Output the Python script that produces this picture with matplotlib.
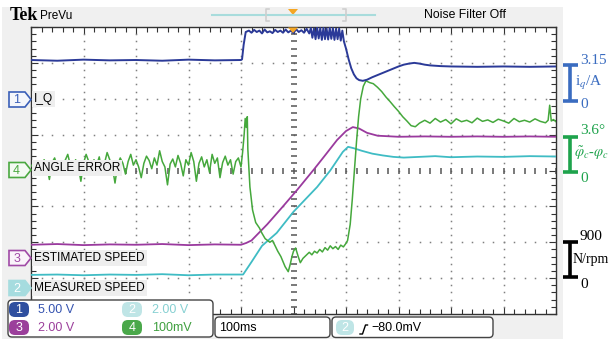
import numpy as np
import matplotlib.pyplot as plt
from matplotlib import font_manager
from matplotlib.patches import Polygon, Rectangle, FancyBboxPatch

plt.rcParams['mathtext.fontset'] = 'stix'

# time in ms (100 ms/div), trace values in screen divisions (0 = centre line)
iq_t = [0, 50, 100, 150, 200, 250, 300, 350, 400, 402, 405, 409, 415,
        420, 425, 430, 435, 440, 445, 450, 455, 460, 465, 470, 475, 480, 485, 490, 495,
        500, 505, 510, 515, 520, 525, 530,
        533, 536, 539, 542, 545, 548, 551, 554, 557, 560, 563, 566, 569, 572, 575, 578,
        581, 584, 587, 590, 593, 596,
        600, 605, 610, 615, 620, 625, 632, 640, 650, 660, 670, 680, 690, 700, 710, 720,
        730, 740, 750, 760, 780, 800, 850, 900, 950, 1000]
iq_v = [3.08, 3.06, 3.09, 3.07, 3.08, 3.06, 3.09, 3.07, 3.08, 3.1, 3.5, 3.86, 3.9,
        3.84, 3.92, 3.86, 3.9, 3.82, 3.93, 3.85, 3.88, 3.83, 3.92, 3.86, 3.9, 3.84, 3.93, 3.85, 3.9,
        3.83, 3.94, 3.86, 3.91, 3.84, 3.95, 3.82,
        3.97, 3.7, 3.96, 3.66, 3.98, 3.68, 3.97, 3.64, 3.98, 3.66, 3.96, 3.65, 3.98, 3.67, 3.97, 3.64,
        3.95, 3.66, 3.96, 3.62, 3.9, 3.6,
        3.4, 3.1, 2.85, 2.68, 2.57, 2.52, 2.5, 2.53, 2.6, 2.66, 2.72, 2.78, 2.84, 2.9, 2.95, 2.98,
        3.0, 2.98, 2.95, 2.93, 2.91, 2.9, 2.89, 2.9, 2.89, 2.9]

ang_pre_t = np.arange(0, 400, 5)
ang_pre_v = [0.12, 0.2, 0.05, 0.25, 0.1, 0.3, 0.15, -0.25, 0.22, 0.35, 0.1, 0.18, -0.1, 0.28, 0.45, 0.15,
             0.05, 0.3, 0.12, -0.3, 0.2, 0.45, 0.25, 0.1, 0.3, 0.15, 0.38, -0.05, 0.2, 0.5, 0.3, 0.1,
             -0.35, 0.15, 0.35, 0.2, -0.1, 0.25, 0.45, 0.15, 0.3, 0.1, -0.2, 0.2, 0.4, 0.28, 0.05, 0.35,
             0.15, 0.55, 0.25, 0.1, -0.4, 0.18, 0.32, 0.1, 0.42, 0.2, -0.15, 0.3, 0.15, 0.5, 0.25, -0.3,
             0.2, 0.38, 0.1, 0.3, -0.05, 0.45, 0.2, 0.35, -0.2, 0.22, 0.4, 0.15, 0.3, -0.1, 0.25, 0.35]
ang_post_t = [400, 403, 406, 408, 410, 412, 413, 417, 422, 428, 435, 440, 446, 455, 460, 465,
              470, 476, 484, 490, 494, 497, 500, 504, 509, 513, 518, 525, 530, 535, 540, 545,
              550, 555, 560, 565, 570, 575, 580, 585, 590, 595, 600, 603, 608, 612, 616, 620,
              624, 628, 633, 638, 645, 652, 660, 668, 676, 684, 692, 700, 708, 716, 724, 732,
              740, 750, 760, 770, 780, 790, 800, 810, 820, 830, 840, 850, 860, 870, 880, 890,
              900, 910, 920, 930, 940, 950, 960, 970, 980, 985, 988, 991, 995, 1000]
ang_post_v = [0.1, 0.5, 1.0, 1.45, 1.2, 1.5, 0.6, -0.46, -1.1, -1.45, -1.6, -1.75, -1.9, -2.0, -1.95, -2.1,
              -2.25, -2.4, -2.68, -2.82, -2.6, -2.4, -2.25, -2.16, -2.4, -2.57, -2.45, -2.35, -2.28, -2.35, -2.25, -2.3,
              -2.2, -2.27, -2.15, -2.22, -2.1, -2.18, -2.12, -2.2, -2.08, -2.13, -2.03, -1.95, -1.5, -0.8, 0.0, 0.8,
              1.5, 2.0, 2.35, 2.5, 2.45, 2.42, 2.32, 2.2, 2.05, 1.92, 1.78, 1.65, 1.5, 1.38, 1.25, 1.22,
              1.32, 1.4, 1.32, 1.45, 1.35, 1.42, 1.3, 1.44, 1.36, 1.4, 1.33, 1.46, 1.37, 1.41, 1.34, 1.43,
              1.38, 1.32, 1.45, 1.36, 1.4, 1.35, 1.44, 1.37, 1.33, 1.4, 1.82, 1.38, 1.42, 1.36]

est_t = [0, 50, 100, 150, 200, 250, 300, 350, 400, 410, 420, 450, 480, 507, 540, 560, 583, 600,
         613, 625, 640, 660, 700, 750, 800, 850, 900, 950, 1000]
est_v = [-2.07, -2.05, -2.08, -2.06, -2.07, -2.05, -2.08, -2.06, -2.07, -2.02, -1.95, -1.5, -1.0, -0.54,
         0.05, 0.42, 0.85, 1.1, 1.21, 1.17, 1.05, 0.97, 0.94, 0.95, 0.94, 0.95, 0.94, 0.95, 0.94]

meas_t = [0, 50, 100, 150, 200, 250, 300, 350, 404, 420, 440, 468, 500, 545, 570, 594, 604,
          615, 630, 650, 670, 690, 710, 740, 770, 800, 850, 900, 950, 1000]
meas_v = [-2.91, -2.9, -2.92, -2.9, -2.91, -2.89, -2.92, -2.9, -2.9, -2.55, -2.1, -1.74, -1.15, -0.46,
          0.0, 0.52, 0.66, 0.62, 0.55, 0.47, 0.42, 0.38, 0.36, 0.38, 0.4, 0.37, 0.39, 0.38, 0.4, 0.39]

names = {f.name for f in font_manager.fontManager.ttflist}
narrow = 'Liberation Sans Narrow' if 'Liberation Sans Narrow' in names else 'Liberation Sans'
serif = 'Liberation Serif'

fig = plt.figure(figsize=(6.1, 3.39), dpi=100)

# background layer in pixel coordinates
bg = fig.add_axes([0, 0, 1, 1], zorder=0)
bg.set_xlim(0, 610)
bg.set_ylim(339, 0)
bg.axis('off')
bg.add_patch(Rectangle((2, 7), 561, 332, fc='#f0f0f0', ec='none'))

# scope screen
ax = fig.add_axes([31 / 610, 25 / 339, 525 / 610, 287 / 339], zorder=1)
ax.set_xlim(0, 1000)
ax.set_ylim(-4, 4)
ax.set_facecolor('white')
for s in ax.spines.values():
    s.set_color('#333333')
    s.set_linewidth(1.0)
ax.set_xticks(np.arange(0, 1001, 100))
ax.set_xticks(np.arange(0, 1001, 20), minor=True)
ax.set_yticks(np.arange(-4, 4.1, 1))
ax.set_yticks(np.arange(-4, 4.1, 0.2), minor=True)
ax.tick_params(which='both', direction='in', top=True, right=True, labelbottom=False,
               labelleft=False, color='#333333', width=0.8)
ax.tick_params(which='major', length=5)
ax.tick_params(which='minor', length=3.5)

# dotted graticule
fine_y = np.arange(-4, 4.01, 0.2)
fine_x = np.arange(0, 1001, 20)
for gx in range(100, 1000, 100):
    if gx == 500:
        continue
    ax.plot(np.full_like(fine_y, gx), fine_y, ls='none', marker='s', ms=1.1, color='#808080', mew=0)
for gy in [-3, -2, -1, 1, 2, 3]:
    ax.plot(fine_x, np.full_like(fine_x, gy, dtype=float), ls='none', marker='s', ms=1.1,
            color='#808080', mew=0)
ax.plot(np.full_like(fine_y, 500), fine_y, ls='none', marker='_', ms=4, mew=1.1, color='#555555')
ax.plot(fine_x, np.zeros_like(fine_x), ls='none', marker='|', ms=4, mew=1.1, color='#555555')

# traces
ax.plot(est_t, est_v, color='#9a3a9e', lw=1.3, zorder=3)
ax.plot(meas_t, meas_v, color='#3fbcc4', lw=1.3, zorder=3)
ax.plot(list(ang_pre_t) + ang_post_t, ang_pre_v + ang_post_v, color='#45a83c', lw=1.1, zorder=4)
ax.plot(iq_t, iq_v, color='#2b3a98', lw=1.4, zorder=5)

lab = dict(fontsize=8.6, family=narrow, color='black', va='center', ha='left', zorder=6,
           bbox=dict(fc='#eeeeee', ec='none', pad=1.4))
ax.text(6, 1.99, 'I_Q', **lab)
ax.text(6, 0.07, 'ANGLE ERROR', **lab)
ax.text(6, -2.44, 'ESTIMATED SPEED', **lab)
ax.text(6, -3.27, 'MEASURED SPEED', **lab)

# overlay layer in pixel coordinates
ov = fig.add_axes([0, 0, 1, 1], zorder=3)
ov.set_xlim(0, 610)
ov.set_ylim(339, 0)
ov.axis('off')


def marker(yc, label, edge, face, tcolor):
    pts = [(9, yc - 7.5), (25, yc - 7.5), (31, yc), (25, yc + 7.5), (9, yc + 7.5)]
    ov.add_patch(Polygon(pts, closed=True, fc=face, ec=edge, lw=1.2))
    ov.text(16.5, yc + 0.5, label, color=tcolor, ha='center', va='center', fontsize=9, family=narrow)


def badge(x0, y0, w, h, color, label):
    ov.add_patch(FancyBboxPatch((x0, y0), w, h, boxstyle='round,pad=0,rounding_size=6',
                                fc=color, ec='none'))
    ov.text(x0 + w / 2, y0 + h / 2 + 0.5, label, color='white', ha='center', va='center',
            fontsize=9, family=narrow)


marker(99.5, '1', '#3a5fb8', '#f4f6fb', '#3a5fb8')
marker(170, '4', '#4aa840', '#f4faf3', '#4aa840')
marker(258, '3', '#a04aa6', '#faf4fa', '#a04aa6')
marker(288, '2', '#a6dcdf', '#a6dcdf', 'white')

# bottom readout boxes
ov.add_patch(FancyBboxPatch((8, 300), 205, 37, boxstyle='round,pad=0,rounding_size=4',
                            fc='white', ec='#444444', lw=1.0))
badge(9, 302, 20, 15, '#2f4f9f', '1')
badge(9, 320, 20, 15, '#9b3f9b', '3')
badge(122, 302, 20, 15, '#bfe5e6', '2')
badge(122, 320, 20, 15, '#4aa84a', '4')
rd = dict(fontsize=9, family=narrow, va='center', ha='left')
ov.text(38, 310, '5.00 V', color='#3553b0', **rd)
ov.text(38, 328, '2.00 V', color='#9b3f9b', **rd)
ov.text(152, 310, '2.00 V', color='#86d0d2', **rd)
ov.text(152, 328, '100mV', color='#3f9f3f', **rd)

ov.add_patch(FancyBboxPatch((215, 317), 115, 20.5, boxstyle='round,pad=0,rounding_size=4',
                            fc='white', ec='#444444', lw=1.0))
ov.text(219, 328, '100ms', color='black', **rd)
ov.add_patch(FancyBboxPatch((332, 317), 161, 20.5, boxstyle='round,pad=0,rounding_size=4',
                            fc='white', ec='#444444', lw=1.0))
badge(336, 320, 18, 15, '#bfe5e6', '2')
ov.plot([360, 362.5, 365.5, 367.5], [334, 334, 325, 325], color='black', lw=1.0)
ov.text(371, 328, '\u221280.0mV', color='black', **rd)

# top bar
ov.text(10, 15, 'Tek', family=serif, fontweight='bold', fontsize=13, va='center', ha='left')
ov.text(40, 16, 'PreVu', family=narrow, fontsize=8.5, va='center', ha='left')
ov.plot([212, 375], [15, 15], color='#a8dcdc', lw=1.5)
ov.plot([269, 266, 266, 269], [9, 9, 21, 21], color='#cfcfcf', lw=1.2)
ov.plot([343, 346, 346, 343], [9, 9, 21, 21], color='#cfcfcf', lw=1.2)
ov.add_patch(Polygon([(288, 9), (298, 9), (293, 15)], closed=True, fc='#f5a623', ec='none'))
ov.add_patch(Polygon([(288, 27.5), (298, 27.5), (293, 33)], closed=True, fc='#f5a623', ec='none'))
ov.text(465, 15, 'Noise Filter Off', family=narrow, fontsize=8.8, va='center', ha='center')

# scale brackets on the right
def bracket(y_top, y_bot, color):
    ov.plot([570, 570], [y_top, y_bot], color=color, lw=2.6, solid_capstyle='butt')
    ov.plot([563, 578], [y_top, y_top], color=color, lw=2.6, solid_capstyle='butt')
    ov.plot([563, 578], [y_bot, y_bot], color=color, lw=2.6, solid_capstyle='butt')


sc = dict(family=serif, fontsize=11, va='center', ha='left')
bracket(65, 101, '#3a6cc0')
ov.text(580, 61, '3.15', color='#3a6cc0', **sc)
ov.text(575, 83, 'i$_q$/A', color='#3a6cc0', **sc)
ov.text(580, 104, '0', color='#3a6cc0', **sc)

bracket(137, 172, '#1ea34c')
ov.text(580, 131, '3.6°', color='#1ea34c', **sc)
ov.text(574, 153, r'$\tilde{\varphi}_c$-$\varphi_c$', color='#1ea34c', family=serif, fontsize=10.5,
        va='center', ha='left')
ov.text(580, 178, '0', color='#1ea34c', **sc)

bracket(242, 277, 'black')
ov.text(580, 237, '900', color='black', **sc)
ov.text(573, 260, 'N/rpm', color='black', family=serif, fontsize=10, va='center', ha='left')
ov.text(580, 284, '0', color='black', **sc)

fig.savefig('out.png', dpi=100)
